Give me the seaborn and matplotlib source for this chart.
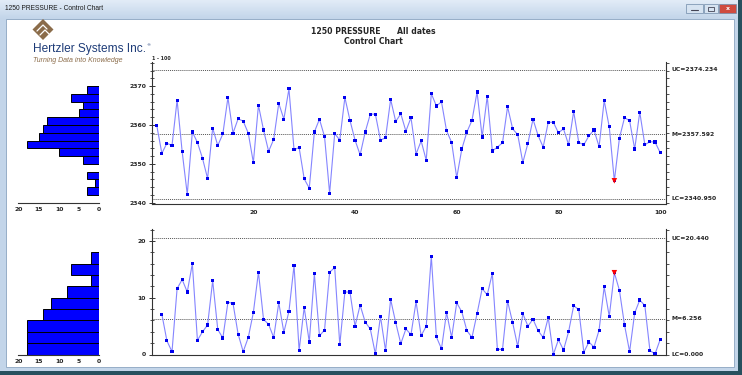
import numpy as np
import pandas as pd
import matplotlib
matplotlib.use("Agg")
import matplotlib.pyplot as plt
import seaborn as sns
from matplotlib.patches import Rectangle, Polygon
from matplotlib.ticker import MultipleLocator, NullFormatter

# individual readings (samples 1..100)
sample_no = list(range(1, 101))
pressure = [
    2359.9, 2352.7, 2355.3, 2354.7, 2366.4, 2353.1, 2342.1, 2358.2, 2355.5, 2351.4,
    2346.2, 2359.2, 2354.7, 2357.7, 2367.1, 2357.9, 2361.6, 2361.0, 2357.9, 2350.3,
    2365.1, 2358.7, 2353.2, 2356.3, 2365.6, 2361.5, 2369.3, 2353.6, 2354.2, 2346.1,
    2343.7, 2358.2, 2361.5, 2357.0, 2342.4, 2357.8, 2356.1, 2367.1, 2361.2, 2356.1,
    2352.3, 2358.2, 2362.8, 2362.8, 2356.1, 2356.7, 2366.6, 2360.9, 2362.9, 2358.4,
    2361.9, 2352.5, 2355.9, 2350.9, 2368.1, 2364.9, 2366.0, 2358.5, 2355.5, 2346.4,
    2353.8, 2358.2, 2361.2, 2368.5, 2356.9, 2367.4, 2353.3, 2354.3, 2355.4, 2364.7,
    2359.0, 2357.5, 2350.3, 2355.3, 2361.5, 2357.3, 2354.3, 2360.7, 2360.7, 2358.0,
    2359.0, 2354.9, 2363.5, 2355.5, 2354.9, 2357.2, 2358.7, 2354.4, 2366.3, 2359.5,
    2345.6, 2356.6, 2361.9, 2361.1, 2353.8, 2363.3, 2354.9, 2355.7, 2355.6, 2352.9,
]

# moving ranges (samples 2..100)
mr_no = list(range(2, 101))
moving_range = [
    7.1, 2.4, 0.5, 11.6, 13.2, 11.0, 16.0, 2.5, 4.0,
    5.2, 13.0, 4.4, 2.9, 9.2, 9.0, 3.6, 0.5, 3.0, 7.4,
    14.5, 6.2, 5.3, 3.0, 9.1, 3.9, 7.6, 15.7, 0.7, 8.3,
    2.2, 14.2, 3.3, 4.3, 14.5, 15.3, 1.7, 11.0, 11.0, 5.0,
    8.7, 5.7, 4.5, 0.1, 6.7, 0.7, 9.7, 5.6, 1.9, 4.5,
    3.5, 9.3, 3.3, 5.0, 17.3, 3.1, 1.0, 7.4, 3.0, 9.1,
    7.5, 4.2, 3.0, 7.2, 11.6, 10.5, 14.3, 0.9, 0.9, 9.4,
    5.6, 1.4, 7.2, 5.0, 6.2, 4.2, 3.0, 6.5, 0.0, 2.6,
    0.8, 4.0, 8.6, 7.9, 0.4, 2.2, 1.3, 4.3, 11.9, 6.7,
    14.4, 11.3, 5.2, 0.5, 7.3, 9.6, 8.6, 0.7, 0.1, 2.6,
]

flagged = 91
x_limits = {"UC": 2374.234, "M": 2357.592, "LC": 2340.950}
mr_limits = {"UC": 20.440, "M": 6.256, "LC": 0.000}
x_bins = list(range(2342, 2372, 2))
mr_bins = list(range(0, 20, 2))

df_x = pd.DataFrame({"sample": sample_no, "value": pressure})
df_mr = pd.DataFrame({"sample": mr_no, "value": moving_range})

sns.set_style("white")
plt.rcParams["font.family"] = ["DejaVu Sans"]
plt.rcParams["font.weight"] = "bold"

W, H = 742, 375
fig = plt.figure(figsize=(W / 100, H / 100), dpi=100)
fig.patch.set_facecolor("#c3d5e9")


def box(l, t, r, b):
    return [l / W, 1 - b / H, (r - l) / W, (b - t) / H]


# window chrome, in pixel coordinates
bg = fig.add_axes([0, 0, 1, 1], zorder=-5)
bg.set_xlim(0, W)
bg.set_ylim(H, 0)
bg.axis("off")
grad = np.linspace(0, 1, 30).reshape(-1, 1)
bg.imshow(grad, extent=(0, W, 18, 0), aspect="auto",
          cmap=matplotlib.colors.LinearSegmentedColormap.from_list("tb", ["#e2ecf7", "#c4d6ea"]))
bg.add_patch(Rectangle((6, 19), 728, 348, facecolor="white", edgecolor="#8aa4c0", lw=0.6))
bg.add_patch(Rectangle((0, 371), W, 4, facecolor="#27505e", lw=0))
bg.add_patch(Rectangle((738, 0), 4, H, facecolor="#27505e", lw=0))
bg.text(5, 9, "1250 PRESSURE - Control Chart", fontsize=4.8, fontweight="normal",
        family=["Liberation Sans"], color="#1a1a1a", va="center")
for x0, w, fc in [(686, 17, "#d6e3f1"), (704, 14, "#d6e3f1"), (719, 17, "#cf4b3f")]:
    bg.add_patch(Rectangle((x0, 4), w, 9, facecolor=fc, edgecolor="#6f8aa8", lw=0.5))
bg.plot([691, 698], [10, 10], color="#445", lw=0.8)
bg.add_patch(Rectangle((708, 6.5), 6, 4, facecolor="none", edgecolor="#445", lw=0.6))
bg.text(727.5, 8.7, "x", fontsize=4.5, color="white", ha="center", va="center")

# logo
bg.add_patch(Polygon([(43, 19), (53.5, 29.5), (43, 40), (32.5, 29.5)], closed=True,
                     facecolor="#8b6c4a", lw=0))
bg.plot([37, 43, 47], [31, 25, 29], color="white", lw=0.9)
bg.plot([40, 45, 50], [35, 30, 35], color="white", lw=0.9)
bg.text(33, 49, "Hertzler Systems Inc.", fontsize=8.6, fontweight="normal",
        family=["Liberation Sans Narrow", "Liberation Sans"], color="#1e3c78", va="center")
bg.text(146, 45, "\u00ae", fontsize=3.2, fontweight="normal", color="#1e3c78", va="center")
bg.text(33, 60, "Turning Data into Knowledge", fontsize=5, fontweight="normal", style="italic",
        family=["Liberation Sans"], color="#8b6c4a", va="center")

bg.text(373, 32, "1250 PRESSURE      All dates", fontsize=5.6, ha="center", va="center")
bg.text(373, 42, "Control Chart", fontsize=5.6, ha="center", va="center")
bg.text(152, 59, "1 - 100", fontsize=3.4, va="center")

line_c, mark_c, lim_c, spine_c = "#8585ff", "#0000ee", "#555555", "#333333"
tick_fs = 4.4


def style_chart(ax, limits, ylim, ymajor, show_xlabels):
    ax.set_xlim(0, 101.1)
    ax.set_ylim(*ylim)
    ax.spines["top"].set_visible(False)
    for s in ["left", "bottom", "right"]:
        ax.spines[s].set_color(spine_c)
        ax.spines[s].set_linewidth(0.8)
    ax.set_xticks([20, 40, 60, 80, 100])
    ax.xaxis.set_minor_locator(MultipleLocator(5))
    ax.set_yticks(ymajor)
    ax.yaxis.set_minor_locator(MultipleLocator(2))
    ax.tick_params(axis="x", which="major", direction="out", length=3, width=0.7,
                   color=spine_c, labelsize=tick_fs, pad=1.5, labelbottom=show_xlabels)
    ax.tick_params(axis="x", which="minor", direction="out", length=1.5, width=0.6, color=spine_c)
    ax.tick_params(axis="y", which="major", direction="inout", length=4, width=0.7,
                   color=spine_c, labelsize=tick_fs, pad=2)
    ax.tick_params(axis="y", which="minor", direction="inout", length=2.5, width=0.6, color=spine_c)
    ax.set_xlabel("")
    ax.set_ylabel("")
    # short outward ticks on the right spine
    axr = ax.twinx()
    axr.set_ylim(*ylim)
    axr.yaxis.set_major_locator(MultipleLocator(2))
    axr.yaxis.set_major_formatter(NullFormatter())
    axr.tick_params(axis="y", direction="out", length=2.2, width=0.6, color=spine_c)
    for s in ["top", "left", "bottom", "right"]:
        axr.spines[s].set_visible(False)
    for name, val in limits.items():
        ax.axhline(val, color=lim_c, lw=0.7, ls=(0, (1, 1)), zorder=1)
        ax.annotate(f"{name}={val:.3f}", xy=(1, val), xycoords=("axes fraction", "data"),
                    xytext=(4.3, 0), textcoords="offset points", va="center",
                    fontsize=tick_fs, annotation_clip=False)


def draw_series(ax, df):
    sns.lineplot(data=df, x="sample", y="value", ax=ax, color=line_c, linewidth=0.8, zorder=3)
    sns.scatterplot(data=df, x="sample", y="value", ax=ax, marker="s", s=5, color=mark_c,
                    edgecolor="none", zorder=4, clip_on=False)
    sns.scatterplot(data=df[df["sample"] == flagged], x="sample", y="value", ax=ax, marker="v",
                    s=16, color="#ff0000", edgecolor="none", zorder=5, clip_on=False)


def draw_hist(ax, values, bins, ylim, base):
    sns.histplot(y=values, bins=bins, ax=ax, color="#0000ff", edgecolor="black",
                 linewidth=0.7, alpha=1)
    ax.set_xlim(20.3, 0)
    ax.set_ylim(*ylim)
    for s in ["top", "left", "right"]:
        ax.spines[s].set_visible(False)
    ax.spines["bottom"].set_position(("data", base))
    ax.spines["bottom"].set_color(spine_c)
    ax.spines["bottom"].set_linewidth(0.8)
    ax.set_xticks([20, 15, 10, 5, 0])
    ax.xaxis.set_minor_locator(MultipleLocator(1))
    ax.set_yticks([])
    ax.tick_params(axis="x", which="major", direction="inout", length=4, width=0.7,
                   color=spine_c, labelsize=tick_fs, pad=1)
    ax.tick_params(axis="x", which="minor", direction="inout", length=2.5, width=0.6, color=spine_c)
    ax.set_xlabel("")
    ax.set_ylabel("")
    ax.patch.set_alpha(0)


top_ylim = (2339.62, 2376.25)
bot_ylim = (0, 22.1)

ax_top = fig.add_axes(box(151.67, 62, 665.7, 204))
ax_top.patch.set_alpha(0)
draw_series(ax_top, df_x)
style_chart(ax_top, x_limits, top_ylim, [2340, 2350, 2360, 2370], True)

ax_bot = fig.add_axes(box(151.67, 229, 665.7, 354.5))
ax_bot.patch.set_alpha(0)
draw_series(ax_bot, df_mr)
style_chart(ax_bot, mr_limits, bot_ylim, [0, 10, 20], False)

ax_ht = fig.add_axes(box(17.8, 62, 99, 204))
draw_hist(ax_ht, pressure, x_bins, top_ylim, 2340)

ax_hb = fig.add_axes(box(17.8, 229, 99, 354.5))
draw_hist(ax_hb, moving_range, mr_bins, bot_ylim, 0)

fig.savefig("out.png", dpi=100, facecolor=fig.get_facecolor())
